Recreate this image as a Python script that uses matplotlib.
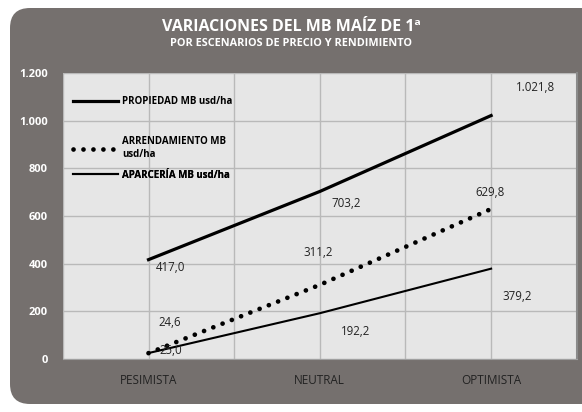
import matplotlib.pyplot as plt
from matplotlib.patches import FancyBboxPatch

plt.rcParams['font.family'] = ['Open Sans', 'DejaVu Sans']

escenarios = ['PESIMISTA', 'NEUTRAL', 'OPTIMISTA']
propiedad = [417.0, 703.2, 1021.8]
arrendamiento = [24.6, 311.2, 629.8]
aparceria = [25.0, 192.2, 379.2]
y_ticks = [0, 200, 400, 600, 800, 1000, 1200]
y_labels = ['0', '200', '400', '600', '800', '1.000', '1.200']

def fmt(v):
    s = f'{v:,.1f}'
    return s.replace(',', 'X').replace('.', ',').replace('X', '.')

fig = plt.figure(figsize=(5.82, 4.12), dpi=100)
fig.patch.set_facecolor('white')

# rounded dark gray frame (in inches)
box = FancyBboxPatch((0.10, 0.08), 6.2, 3.96, boxstyle='round,pad=0,rounding_size=0.2',
                     transform=fig.dpi_scale_trans, facecolor='#75706e', edgecolor='none',
                     zorder=-10)
fig.patches.append(box)

fig.text(0.5, 0.935, 'VARIACIONES DEL MB MAÍZ DE 1ª', ha='center', va='center',
         color='white', fontsize=11.5, fontweight='bold')
fig.text(0.5, 0.895, 'POR ESCENARIOS DE PRECIO Y RENDIMIENTO', ha='center', va='center',
         color='white', fontsize=7.8, fontweight='bold')

ax = fig.add_axes([0.108, 0.1286, 0.883, 0.694])
ax.set_facecolor('#e6e6e6')
x = range(len(escenarios))

l1, = ax.plot(x, propiedad, color='black', lw=2.3)
l2, = ax.plot(x, arrendamiento, color='black', lw=3.4, linestyle=(0, (0.01, 2.1)),
              dash_capstyle='round')
l3, = ax.plot(x, aparceria, color='black', lw=1.5)

# data labels, offsets in points (Excel-like placement)
offs_prop = [(16, -6), (19, -9), (32, 20)]
offs_arr = [(15, 22), (-1, 23), (-1, 12)]
offs_apa = [(16, 2), (26, -13), (19, -20)]
for vals, offs in [(propiedad, offs_prop), (arrendamiento, offs_arr), (aparceria, offs_apa)]:
    for i, (v, o) in enumerate(zip(vals, offs)):
        ax.annotate(fmt(v), (i, v), xytext=o, textcoords='offset points',
                    ha='center', va='center', fontsize=8.3, color='#222222')

ax.set_xlim(-0.5, 2.5)
ax.set_ylim(0, 1200)
ax.set_xticks([0, 1, 2])
ax.set_xticklabels(escenarios, fontsize=8.5, color='#222222')
ax.set_xticks([-0.5, 0.5, 1.5, 2.5], minor=True)
ax.set_yticks(y_ticks)
ax.set_yticklabels(y_labels, fontsize=8, color='white', fontweight='bold')
ax.grid(True, which='both', color='#b9b9b9', lw=1)
ax.set_axisbelow(True)
ax.tick_params(which='both', length=0)
ax.tick_params(axis='x', pad=11)
ax.tick_params(axis='y', pad=11)
for s in ['top', 'left']:
    ax.spines[s].set_visible(False)
ax.spines['bottom'].set_color('#a0a0a0')
ax.spines['right'].set_color('#8a8a8a')
ax.spines['right'].set_linewidth(1.5)

# legend entries placed one by one (Excel spacing is uneven)
entries = [(l1, 'PROPIEDAD MB usd/ha', 0.899),
           (l2, 'ARRENDAMIENTO MB\nusd/ha', 0.738),
           (l3, 'APARCERÍA MB usd/ha', 0.643)]
for h, lab, yy in entries:
    lg = ax.legend([h], [lab], loc='center left', bbox_to_anchor=(0.0195, yy),
                   frameon=False, prop={'size': 7, 'weight': 'bold'},
                   handlelength=4.6, handletextpad=0.45, borderpad=0, borderaxespad=0)
    ax.add_artist(lg)

fig.savefig('out.png', dpi=100)
